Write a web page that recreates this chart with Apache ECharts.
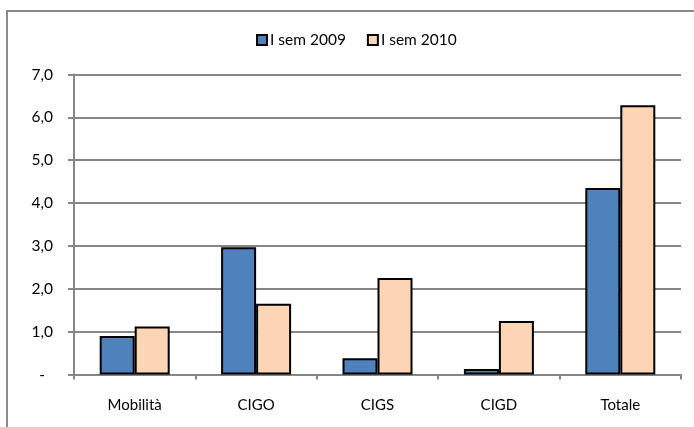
<!DOCTYPE html>
<html>
<head>
<meta charset="utf-8">
<script src="https://cdn.jsdelivr.net/npm/echarts@6/dist/echarts.min.js"></script>
<style>
html,body{margin:0;padding:0;background:#fff;}
#c{width:694px;height:427px;}
</style>
</head>
<body>
<div id="c"></div>
<script>
var categories = ['Mobilità', 'CIGO', 'CIGS', 'CIGD', 'Totale'];
var seriesNames = ['I sem 2009', 'I sem 2010'];
var values2009 = [0.90, 2.97, 0.38, 0.13, 4.35];
var values2010 = [1.12, 1.65, 2.25, 1.25, 6.28];
var yTicks = [0, 1, 2, 3, 4, 5, 6, 7];

var chart = echarts.init(document.getElementById('c'));
var font = 'Lato, "Open Sans", sans-serif';
chart.setOption({
  animation: false,
  backgroundColor: '#fff',
  textStyle: {fontFamily: font},
  graphic: [{
    type: 'polyline',
    shape: {points: [[7, 427], [7, 11], [694, 11]]},
    style: {stroke: '#898989', lineWidth: 2, fill: null}
  }],
  legend: {
    top: 27,
    left: 251,
    itemWidth: 10,
    itemHeight: 10,
    itemGap: 21,
    icon: 'rect',
    textStyle: {fontSize: 15.5, color: '#000', fontFamily: font, padding: [0,0,0,-2]},
    data: seriesNames
  },
  grid: {left: 74, right: 13, top: 74.5, bottom: 52.5, containLabel: false},
  xAxis: {
    type: 'category',
    data: categories,
    axisLine: {lineStyle: {color: '#868686', width: 2}},
    axisTick: {show: true, length: 5, lineStyle: {color: '#868686', width: 2}},
    axisLabel: {color: '#000', fontSize: 15, margin: 23, fontFamily: font}
  },
  yAxis: {
    type: 'value',
    min: yTicks[0],
    max: yTicks[yTicks.length - 1],
    interval: 1,
    axisLine: {show: true, lineStyle: {color: '#868686', width: 2}},
    axisTick: {show: true, length: 6, lineStyle: {color: '#868686', width: 2}},
    splitLine: {lineStyle: {color: '#868686', width: 2}},
    axisLabel: {
      color: '#000', fontSize: 15.5, margin: 21, fontFamily: font,
      formatter: function (v) { return v === 0 ? '{z|-}' : v.toFixed(1).replace('.', ','); },
      rich: {z: {fontSize: 15.5, fontFamily: font, color: '#000', padding: [0, 8, 0, 0]}}
    }
  },
  series: [{
    name: seriesNames[0],
    type: 'bar',
    data: values2009,
    barWidth: 35,
    barGap: '0%',
    itemStyle: {color: '#4F81BD', borderColor: '#000', borderWidth: 2}
  }, {
    name: seriesNames[1],
    type: 'bar',
    data: values2010,
    barWidth: 35,
    barGap: '0%',
    itemStyle: {color: '#FCD5B5', borderColor: '#000', borderWidth: 2}
  }]
});
</script>
</body>
</html>
